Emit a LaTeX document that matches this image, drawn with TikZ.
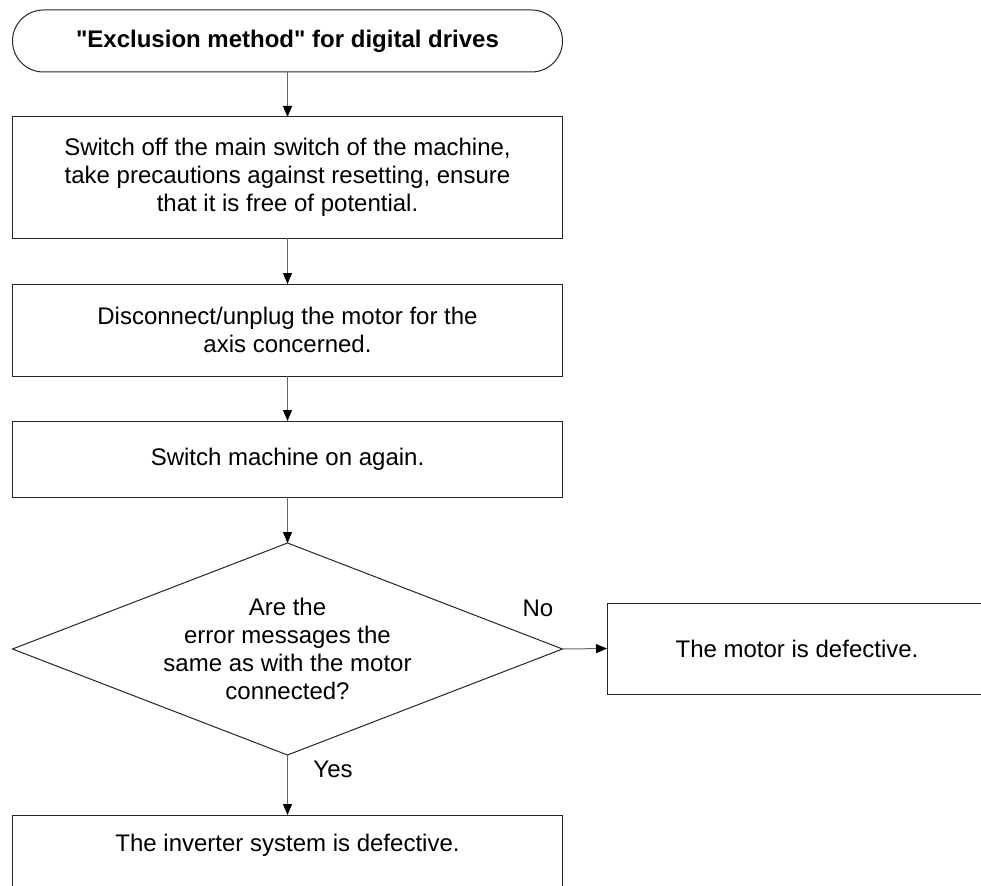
\documentclass[tikz,border=0pt]{standalone}
\usepackage{fontspec}
% plain straight quotes: no TeX input mapping
\setmainfont{Liberation Sans}[Ligatures=TeXOff]
\usetikzlibrary{shapes.geometric,arrows.meta}

\begin{document}
\begin{tikzpicture}[x=1pt,y=-1pt,
  every node/.style={font=\fontsize{24}{28}\selectfont, inner sep=0pt, outer sep=0pt},
  shape line/.style={draw=black!85, line width=1pt},
  terminal/.style={shape line, rectangle, rounded corners=31pt,
    minimum width=550pt, minimum height=62pt, align=center},
  stepbox/.style={shape line, rectangle, minimum width=550pt, align=center},
  decision/.style={shape line, diamond, aspect=2.594,
    minimum width=550pt, minimum height=212pt, align=center},
  flow/.style={draw=black!60, line width=1pt,
    -{Triangle[length=11pt,width=9pt,color=black]}},
]
\useasboundingbox (0,0) rectangle (981,885);
\clip (0,0) rectangle (981,885);

% start of the procedure
\node[terminal] (start) at (287.5,41)
  {\bfseries "Exclusion method" for digital drives};

% working steps
\node[stepbox, minimum height=121pt] (off) at (287.5,177.5)
  {Switch off the main switch of the machine,\\
   take precautions against resetting, ensure\\
   that it is free of potential.};
\node[stepbox, minimum height=92pt] (unplug) at (287.5,330)
  {Disconnect/unplug the motor for the\\ axis concerned.};
\node[stepbox, minimum height=76pt] (on) at (287.5,459)
  {Switch machine on again.};

% the check
\node[decision] (check) at (287.5,649)
  {Are the\\ error messages the\\ same as with the motor\\ connected?};

% outcomes
\node[stepbox, minimum width=380pt, minimum height=91pt] (motor) at (797,648.5)
  {The motor is defective.};
\node[stepbox, anchor=north, text height=36pt, text depth=60pt] (inverter)
  at (287.5,815) {The inverter system is defective.};

% branch labels
\node[anchor=base] (no) at (538,616) {No};
\node[anchor=base] (yes) at (333,777) {Yes};

% connectors
\draw[flow] (start.south) -- (off.north);
\draw[flow] (off.south) -- (unplug.north);
\draw[flow] (unplug.south) -- (on.north);
\draw[flow] (on.south) -- (check.north);
\draw[flow] (check.east) -- (motor.west);
\draw[flow] (check.south) -- (inverter.north);
\end{tikzpicture}
\end{document}
